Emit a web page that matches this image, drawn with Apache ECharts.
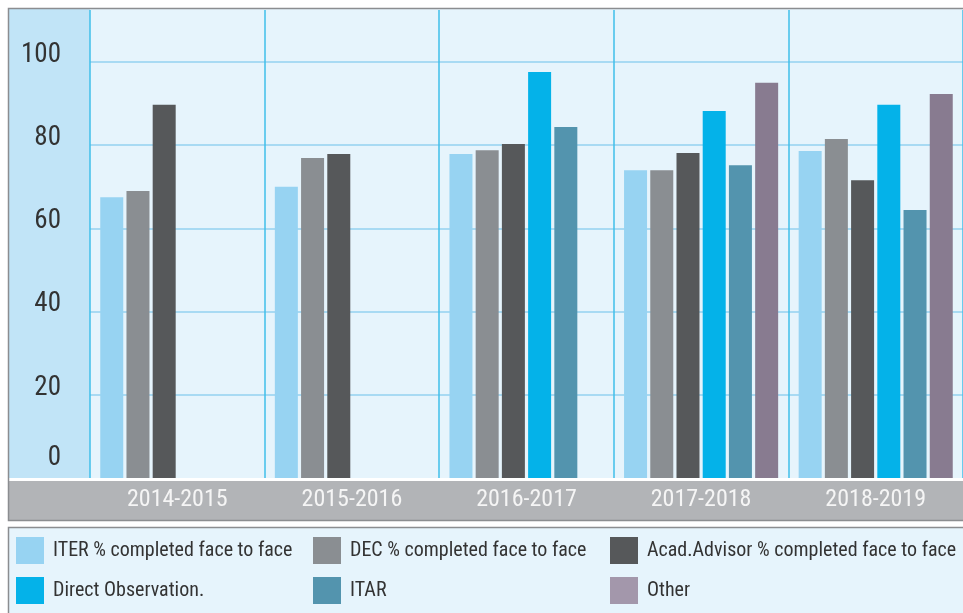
<!DOCTYPE html>
<html>
<head>
<meta charset="utf-8">
<script src="https://cdn.jsdelivr.net/npm/echarts@6/dist/echarts.min.js"></script>
<style>
  html, body { margin: 0; padding: 0; background: #ffffff; }
  #chart { width: 963px; height: 613px; }
</style>
</head>
<body>
<div id="chart"></div>
<script>
// Academic years on the x axis
const categories = ['2014-2015', '2015-2016', '2016-2017', '2017-2018', '2018-2019'];

// Percentages per evaluation type (null = not collected that year)
const iterFaceToFace  = [67.5, 70.0, 77.9, 74.0, 78.6];
const decFaceToFace   = [69.0, 76.9, 78.8, 74.0, 81.5];
const acadFaceToFace  = [89.7, 77.9, 80.3, 78.1, 71.6];
const directObs       = [null, null, 97.6, 88.2, 89.7];
const itar            = [null, null, 84.4, 75.2, 64.4];
const other           = [null, null, null, 95.0, 92.3];

const seriesNames = [
  'ITER % completed face to face',
  'DEC % completed face to face',
  'Acad.Advisor % completed face to face',
  'Direct Observation.',
  'ITAR',
  'Other'
];
const seriesValues = [iterFaceToFace, decFaceToFace, acadFaceToFace, directObs, itar, other];
const seriesColors = ['#97d3f2', '#8a8e92', '#56585a', '#04b2e9', '#5394ae', '#887b90'];

const FONT = "'Liberation Sans Narrow', 'Arial Narrow', 'Roboto Condensed', 'DejaVu Sans Condensed', sans-serif";

const GRID_LEFT = 90, GRID_TOP = 10, GRID_BOTTOM_Y = 478, GRID_WIDTH = 877;

const chart = echarts.init(document.getElementById('chart'), null, { renderer: 'canvas' });

const legendText = { color: '#333333', fontSize: 20, fontFamily: FONT, padding: [0, 0, 0, 4] };
function legendBlock(left, names) {
  return {
    orient: 'vertical',
    left: left,
    top: 537,
    padding: 0,
    itemWidth: 28,
    itemHeight: 27,
    itemGap: 13,
    icon: 'rect',
    selectedMode: false,
    textStyle: legendText,
    data: names.map(function (n) {
      return n === 'Other' ? { name: n, itemStyle: { color: '#a397ab' } } : { name: n };
    })
  };
}

const option = {
  animation: false,
  backgroundColor: '#ffffff',
  graphic: [
    // light-blue strip behind the value labels
    { type: 'rect', z: -10, shape: { x: 9, y: 9, width: GRID_LEFT - 9, height: GRID_BOTTOM_Y - 9 },
      style: { fill: '#c1e4f7' } },
    // plot background
    { type: 'rect', z: -10, shape: { x: GRID_LEFT, y: 9, width: 900, height: GRID_BOTTOM_Y - 9 },
      style: { fill: '#e6f4fc' } },
    // grey band holding the year labels
    { type: 'rect', z: -10, shape: { x: 9, y: 481, width: 960, height: 39 },
      style: { fill: '#b2b4b7' } },
    // outer frame of the chart block
    { type: 'rect', z: 50, shape: { x: 8.5, y: 8.5, width: 970, height: 512 },
      style: { fill: 'none', stroke: '#8b8d90', lineWidth: 1.5 } },
    // legend box
    { type: 'rect', z: -10, shape: { x: 8.5, y: 527.5, width: 970, height: 100 },
      style: { fill: '#e6f4fc', stroke: '#8b8d90', lineWidth: 1.5 } }
  ],
  legend: [
    legendBlock(16, [seriesNames[0], seriesNames[3]]),
    legendBlock(313, [seriesNames[1], seriesNames[4]]),
    legendBlock(610, [seriesNames[2], seriesNames[5]])
  ],
  grid: {
    left: GRID_LEFT,
    top: GRID_TOP,
    width: GRID_WIDTH,
    height: GRID_BOTTOM_Y - GRID_TOP,
    containLabel: false
  },
  xAxis: {
    type: 'category',
    data: categories,
    boundaryGap: true,
    axisLine: { show: false },
    axisTick: { show: false },
    splitLine: { show: true, lineStyle: { color: '#3fbfea', width: 1.5 } },
    axisLabel: {
      color: '#f5f5f5',
      fontSize: 24,
      fontFamily: FONT,
      margin: 10,
      lineHeight: 24
    }
  },
  yAxis: {
    type: 'value',
    min: 0,
    max: 112.5,
    interval: 20,
    axisLine: { show: false },
    axisTick: { show: false },
    splitLine: { show: true, showMaxLine: false, showMinLine: false,
      lineStyle: { color: '#93d2f1', width: 1.5 } },
    axisLabel: {
      showMaxLabel: false,
      margin: 29,
      formatter: function (v) {
        return v === 0 ? '{z|0}' : '{n|' + v + '}';
      },
      rich: {
        n: { fontSize: 27, fontFamily: FONT, color: '#333333', padding: [0, 0, 14, 0] },
        z: { fontSize: 27, fontFamily: FONT, color: '#333333', padding: [0, 0, 40, 0] }
      }
    }
  },
  series: seriesNames.map(function (name, i) {
    return {
      name: name,
      type: 'bar',
      data: seriesValues[i],
      barWidth: 23,
      barGap: '14%',
      itemStyle: { color: seriesColors[i] }
    };
  })
};

chart.setOption(option);
</script>
</body>
</html>
